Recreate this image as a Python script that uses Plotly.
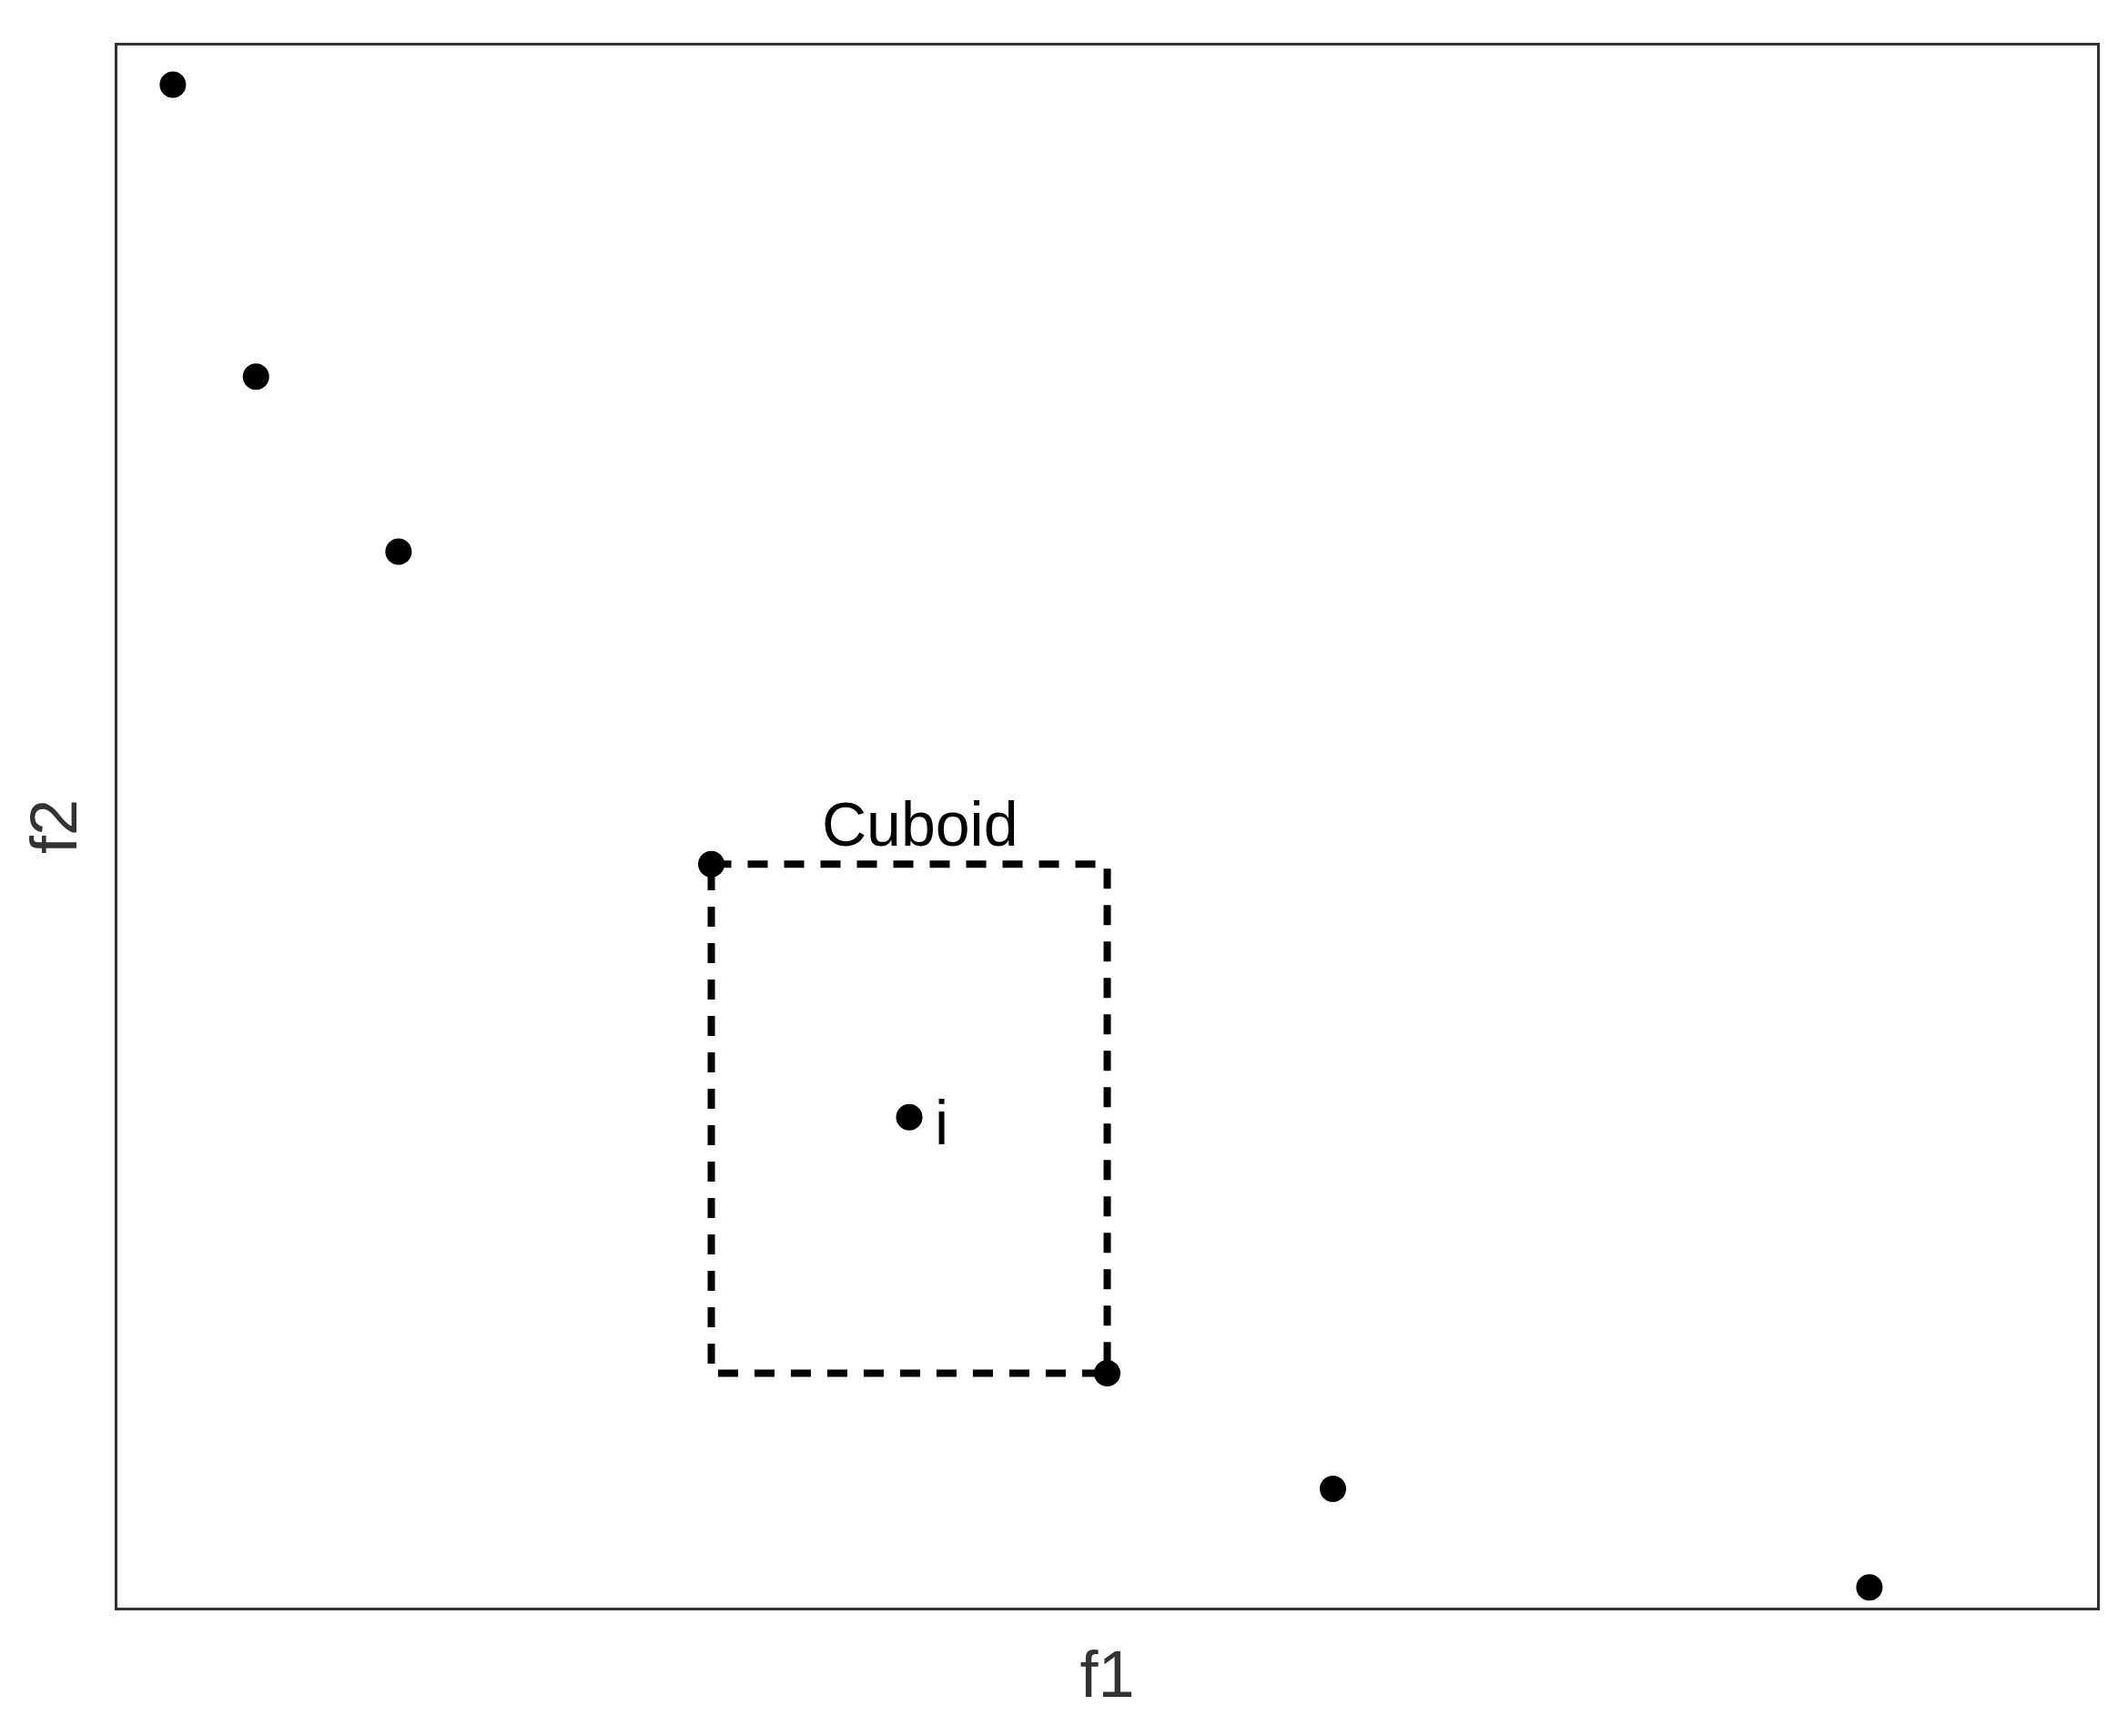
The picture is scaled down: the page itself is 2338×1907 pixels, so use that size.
import plotly.graph_objects as go

# objective values of the front (f1, f2)
f1 = [0.28, 0.70, 1.42, 3.00, 4.00, 5.00, 6.14, 8.85]
f2 = [9.75, 7.88, 6.76, 4.76, 3.14, 1.50, 0.76, 0.13]

point_i = 4          # the point whose crowding cuboid is drawn
left_nb, right_nb = 3, 5

FONT = "Liberation Sans, Arial, sans-serif"

fig = go.Figure()

# cuboid spanned by the two neighbours of i
x0, x1 = f1[left_nb], f1[right_nb]
y0, y1 = f2[right_nb], f2[left_nb]
fig.add_trace(go.Scatter(
    x=[x0, x1, x1, x0, x0], y=[y1, y1, y0, y0, y1],
    mode="lines", line=dict(color="black", width=8, dash="22px,18px"),
    hoverinfo="skip", showlegend=False,
))

fig.add_trace(go.Scatter(
    x=f1, y=f2, mode="markers",
    marker=dict(color="black", size=29),
    showlegend=False,
))

fig.add_annotation(
    x=(x0 + x1) / 2, y=y1, text="Cuboid", showarrow=False,
    xanchor="center", yanchor="bottom", xshift=12, yshift=4,
    font=dict(family=FONT, size=68, color="black"),
)
fig.add_annotation(
    x=f1[point_i], y=f2[point_i], text="i", showarrow=False,
    xanchor="left", yanchor="middle", xshift=26, yshift=-6,
    font=dict(family=FONT, size=68, color="black"),
)

axis = dict(
    showgrid=False, zeroline=False, showticklabels=False, ticks="",
    showline=True, mirror=True, linecolor="#333333", linewidth=3,
)
fig.update_xaxes(range=[0, 10], title=dict(text="f1", standoff=46,
                 font=dict(family=FONT, size=72, color="#333333")), **axis)
fig.update_yaxes(range=[0, 10], title=dict(text="f2", standoff=18,
                 font=dict(family=FONT, size=72, color="#333333")), **axis)

# the page body adds an 8px offset, so margins are trimmed to match
fig.update_layout(
    width=2338, height=1907,
    margin=dict(l=121, r=42, t=42, b=149),
    plot_bgcolor="white", paper_bgcolor="white",
)

fig.write_html("out.html")
